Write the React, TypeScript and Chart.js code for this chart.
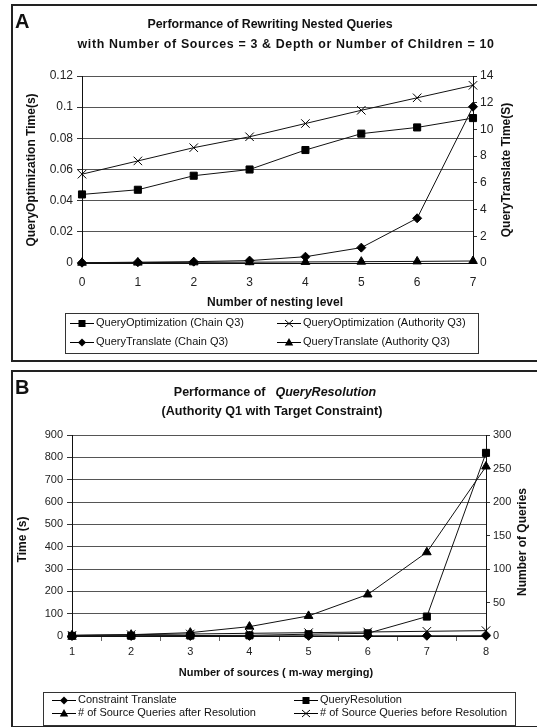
import React, { useEffect, useRef } from 'react';
import { Chart, registerables } from 'chart.js';

Chart.register(...registerables);

// ---------- Panel A data ----------
const nestingLevels = ['0', '1', '2', '3', '4', '5', '6', '7'];
const qoChainQ3 = [0.044, 0.047, 0.056, 0.06, 0.0725, 0.083, 0.087, 0.093];
const qoAuthorityQ3 = [0.057, 0.0655, 0.074, 0.081, 0.0895, 0.098, 0.106, 0.114];
const qtChainQ3 = [0.02, 0.06, 0.1, 0.18, 0.47, 1.15, 3.35, 11.7];
const qtAuthorityQ3 = [0.02, 0.03, 0.05, 0.06, 0.08, 0.1, 0.12, 0.15];
const leftTicksA = ['0', '0.02', '0.04', '0.06', '0.08', '0.1', '0.12'];
const rightTicksA = ['0', '2', '4', '6', '8', '10', '12', '14'];

// ---------- Panel B data ----------
const sourceCounts = ['1', '2', '3', '4', '5', '6', '7', '8'];
const constraintTranslate = [0.2, 0.3, 0.4, 0.5, 0.6, 0.8, 1, 1.2];
const queryResolution = [0.5, 1, 2, 3, 8, 12, 87, 820];
const queriesAfterResolution = [1, 2, 5, 14, 30, 62, 125, 253];
const queriesBeforeResolution = [1, 2, 3, 4, 5, 6, 7, 8];
const leftTicksB = ['0', '100', '200', '300', '400', '500', '600', '700', '800', '900'];
const rightTicksB = ['0', '50', '100', '150', '200', '250', '300'];

const FONT = "'Liberation Sans', Arial, Helvetica, sans-serif";
Chart.defaults.font.family = FONT;
Chart.defaults.color = '#222';

type Marker = 'rect' | 'rectRot' | 'triangle' | 'crossRot';

function drawMarker(ctx: CanvasRenderingContext2D, style: Marker, x: number, y: number) {
  ctx.save();
  ctx.fillStyle = '#000';
  ctx.strokeStyle = '#000';
  ctx.lineWidth = 1;
  ctx.beginPath();
  if (style === 'rect') {
    ctx.rect(x - 3.5, y - 3.5, 7, 7);
    ctx.fill();
  } else if (style === 'rectRot') {
    ctx.moveTo(x, y - 4);
    ctx.lineTo(x + 4, y);
    ctx.lineTo(x, y + 4);
    ctx.lineTo(x - 4, y);
    ctx.closePath();
    ctx.fill();
  } else if (style === 'triangle') {
    ctx.moveTo(x, y - 4.5);
    ctx.lineTo(x + 4.2, y + 3);
    ctx.lineTo(x - 4.2, y + 3);
    ctx.closePath();
    ctx.fill();
  } else {
    ctx.moveTo(x - 4, y - 3.5);
    ctx.lineTo(x + 4, y + 3.5);
    ctx.moveTo(x + 4, y - 3.5);
    ctx.lineTo(x - 4, y + 3.5);
    ctx.stroke();
  }
  ctx.restore();
}

interface Seg { text: string; italic?: boolean; gap?: number }
interface TitleLine { y: number; cx: number; size: number; spacing?: number; segs: Seg[] }
interface TextSpec { text: string; x: number; y: number; size: number }
interface Deco {
  letter: string;
  borderTop: number;
  titleLines: TitleLine[];
  leftTitle: TextSpec;
  rightTitle: TextSpec;
  xTitle: TextSpec;
  legendBox: { x: number; y: number; w: number; h: number };
  legendCols: number[];
  legendRows: number[];
  legendItems: { label: string; marker: Marker; row: number; col: number }[];
}

function decoPlugin(d: Deco) {
  return {
    id: 'deco',
    afterDraw(chart: Chart) {
      const ctx = chart.ctx as any;
      ctx.save();
      // panel border
      ctx.strokeStyle = '#222';
      ctx.lineWidth = 2;
      ctx.strokeRect(12, d.borderTop, 560, 356);
      // letter
      ctx.fillStyle = '#111';
      ctx.font = `bold 20px ${FONT}`;
      ctx.textAlign = 'left';
      ctx.textBaseline = 'middle';
      ctx.fillText(d.letter, 15, d.borderTop + 17);
      // titles
      for (const line of d.titleLines) {
        ctx.letterSpacing = `${line.spacing || 0}px`;
        let total = 0;
        const widths = line.segs.map((s) => {
          ctx.font = `${s.italic ? 'italic ' : ''}bold ${line.size}px ${FONT}`;
          const w = ctx.measureText(s.text).width + (s.gap || 0);
          total += w;
          return w;
        });
        let x = line.cx - total / 2;
        line.segs.forEach((s, i) => {
          ctx.font = `${s.italic ? 'italic ' : ''}bold ${line.size}px ${FONT}`;
          ctx.textAlign = 'left';
          ctx.fillText(s.text, x + (s.gap || 0), line.y);
          x += widths[i];
        });
      }
      ctx.letterSpacing = '0px';
      // axis titles
      ctx.textAlign = 'center';
      ctx.font = `bold ${d.xTitle.size}px ${FONT}`;
      ctx.fillText(d.xTitle.text, d.xTitle.x, d.xTitle.y);
      for (const t of [d.leftTitle, d.rightTitle]) {
        ctx.save();
        ctx.font = `bold ${t.size}px ${FONT}`;
        ctx.translate(t.x, t.y);
        ctx.rotate(-Math.PI / 2);
        ctx.fillText(t.text, 0, 0);
        ctx.restore();
      }
      // legend
      const b = d.legendBox;
      ctx.strokeStyle = '#333';
      ctx.lineWidth = 1;
      ctx.strokeRect(b.x + 0.5, b.y + 0.5, b.w, b.h);
      ctx.font = `11px ${FONT}`;
      ctx.textAlign = 'left';
      ctx.textBaseline = 'middle';
      for (const it of d.legendItems) {
        const x0 = d.legendCols[it.col];
        const y = d.legendRows[it.row];
        ctx.beginPath();
        ctx.strokeStyle = '#000';
        ctx.moveTo(x0, y + 0.5);
        ctx.lineTo(x0 + 24, y + 0.5);
        ctx.stroke();
        drawMarker(ctx, it.marker, x0 + 12, y + 0.5);
        ctx.fillStyle = '#111';
        ctx.fillText(it.label, x0 + 26, y);
      }
      ctx.restore();
    },
  };
}

function ds(label: string, data: number[], marker: Marker, axis: string, radius: number) {
  return {
    label,
    data,
    yAxisID: axis,
    borderColor: '#111',
    borderWidth: 1,
    backgroundColor: '#000',
    pointBackgroundColor: '#000',
    pointBorderColor: '#000',
    pointBorderWidth: 1,
    pointStyle: marker,
    pointRadius: radius,
    tension: 0,
    fill: false,
    clip: false as any,
  };
}

interface AreaSpec {
  W: number; H: number; left: number; right: number; top: number; bottom: number;
  tickSize: number; leftTickLen: number; xPad: number; xTicks: boolean;
}

function buildOptions(a: AreaSpec, leftTicks: string[], rightTicks: string[], lMax: number, rMax: number) {
  return {
    responsive: false,
    animation: false as const,
    layout: { padding: { top: a.top, left: 0, right: 0, bottom: 0 } },
    plugins: { legend: { display: false }, title: { display: false }, tooltip: { enabled: false } },
    scales: {
      x: {
        type: 'category' as const,
        offset: false,
        grid: a.xTicks
          ? { display: true, drawOnChartArea: false, drawTicks: true, tickLength: 5, offset: true, color: '#666' }
          : { display: false, drawTicks: false },
        border: { display: true, color: '#111', width: 1 },
        ticks: { font: { size: a.tickSize }, color: '#222', padding: a.xPad, maxRotation: 0, autoSkip: false },
        afterFit: (s: any) => { s.height = a.H - a.bottom; },
      },
      y: {
        type: 'linear' as const,
        position: 'left' as const,
        min: 0,
        max: lMax,
        grid: { color: '#555', lineWidth: 1, drawTicks: true, tickLength: a.leftTickLen, tickColor: '#333' },
        border: { display: true, color: '#111', width: 1 },
        ticks: { font: { size: a.tickSize }, color: '#222', padding: 4, callback: (_v: any, i: number) => leftTicks[i] },
        afterBuildTicks: (s: any) => { s.ticks = leftTicks.map((t) => ({ value: parseFloat(t) })); },
        afterFit: (s: any) => { s.width = a.left; },
      },
      y1: {
        type: 'linear' as const,
        position: 'right' as const,
        min: 0,
        max: rMax,
        grid: { drawOnChartArea: false, drawTicks: true, tickLength: 4, color: '#333' },
        border: { display: true, color: '#111', width: 1 },
        ticks: { font: { size: a.tickSize }, color: '#222', padding: 3, callback: (_v: any, i: number) => rightTicks[i] },
        afterBuildTicks: (s: any) => { s.ticks = rightTicks.map((t) => ({ value: parseFloat(t) })); },
        afterFit: (s: any) => { s.width = a.W - a.right; },
      },
    },
  };
}

function buildA(): any {
  const area: AreaSpec = { W: 537, H: 366, left: 82, right: 473, top: 76, bottom: 263, tickSize: 12, leftTickLen: 5, xPad: 12, xTicks: false };
  const deco: Deco = {
    letter: 'A',
    borderTop: 5,
    titleLines: [
      { y: 25, cx: 270, size: 12.4, segs: [{ text: 'Performance of Rewriting Nested Queries' }] },
      { y: 45, cx: 286, size: 12.4, spacing: 0.65, segs: [{ text: 'with Number of Sources = 3 & Depth or Number of Children = 10' }] },
    ],
    leftTitle: { text: 'QueryOptimization Time(s)', x: 32, y: 170, size: 12 },
    rightTitle: { text: 'QueryTranslate Time(S)', x: 507, y: 170, size: 12 },
    xTitle: { text: 'Number of nesting level', x: 275, y: 303, size: 12 },
    legendBox: { x: 65, y: 313, w: 413, h: 40 },
    legendCols: [70, 277],
    legendRows: [323, 342],
    legendItems: [
      { label: 'QueryOptimization (Chain Q3)', marker: 'rect', row: 0, col: 0 },
      { label: 'QueryOptimization (Authority Q3)', marker: 'crossRot', row: 0, col: 1 },
      { label: 'QueryTranslate (Chain Q3)', marker: 'rectRot', row: 1, col: 0 },
      { label: 'QueryTranslate (Authority Q3)', marker: 'triangle', row: 1, col: 1 },
    ],
  };
  return {
    type: 'line',
    data: {
      labels: nestingLevels,
      datasets: [
        ds('QueryOptimization (Chain Q3)', qoChainQ3, 'rect', 'y', 5),
        ds('QueryOptimization (Authority Q3)', qoAuthorityQ3, 'crossRot', 'y', 6),
        ds('QueryTranslate (Chain Q3)', qtChainQ3, 'rectRot', 'y1', 4.5),
        ds('QueryTranslate (Authority Q3)', qtAuthorityQ3, 'triangle', 'y1', 5),
      ],
    },
    options: buildOptions(area, leftTicksA, rightTicksA, 0.12, 14),
    plugins: [decoPlugin(deco)],
  };
}

function buildB(): any {
  const area: AreaSpec = { W: 537, H: 361, left: 72, right: 486, top: 69, bottom: 270, tickSize: 11, leftTickLen: 5, xPad: 4, xTicks: true };
  const deco: Deco = {
    letter: 'B',
    borderTop: 5,
    titleLines: [
      { y: 26.5, cx: 275, size: 12.5, segs: [{ text: 'Performance of' }, { text: 'QueryResolution', italic: true, gap: 10 }] },
      { y: 46, cx: 272, size: 12.6, segs: [{ text: '(Authority Q1 with Target Constraint)' }] },
    ],
    leftTitle: { text: 'Time (s)', x: 23, y: 173.5, size: 12 },
    rightTitle: { text: 'Number of Queries', x: 523, y: 176, size: 12 },
    xTitle: { text: 'Number of sources ( m-way merging)', x: 276, y: 307, size: 11 },
    legendBox: { x: 43, y: 326, w: 472, h: 33 },
    legendCols: [52, 294],
    legendRows: [334, 347],
    legendItems: [
      { label: 'Constraint Translate', marker: 'rectRot', row: 0, col: 0 },
      { label: 'QueryResolution', marker: 'rect', row: 0, col: 1 },
      { label: '# of Source Queries after Resolution', marker: 'triangle', row: 1, col: 0 },
      { label: '# of Source Queries before Resolution', marker: 'crossRot', row: 1, col: 1 },
    ],
  };
  return {
    type: 'line',
    data: {
      labels: sourceCounts,
      datasets: [
        ds('Constraint Translate', constraintTranslate, 'rectRot', 'y', 4.5),
        ds('QueryResolution', queryResolution, 'rect', 'y', 5),
        ds('# of Source Queries after Resolution', queriesAfterResolution, 'triangle', 'y1', 5),
        ds('# of Source Queries before Resolution', queriesBeforeResolution, 'crossRot', 'y1', 6),
      ],
    },
    options: buildOptions(area, leftTicksB, rightTicksB, 900, 300),
    plugins: [decoPlugin(deco)],
  };
}

export default function App() {
  const refA = useRef<HTMLCanvasElement>(null);
  const refB = useRef<HTMLCanvasElement>(null);
  useEffect(() => {
    const a = new Chart(refA.current as HTMLCanvasElement, buildA());
    const b = new Chart(refB.current as HTMLCanvasElement, buildB());
    return () => {
      a.destroy();
      b.destroy();
    };
  }, []);
  return (
    <div style={{ position: 'absolute', left: 0, top: 0, width: 537, height: 727, background: '#fff', overflow: 'hidden' }}>
      <canvas ref={refA} width={537} height={366} style={{ position: 'absolute', left: 0, top: 0, width: 537, height: 366 }} />
      <canvas ref={refB} width={537} height={361} style={{ position: 'absolute', left: 0, top: 366, width: 537, height: 361 }} />
    </div>
  );
}
